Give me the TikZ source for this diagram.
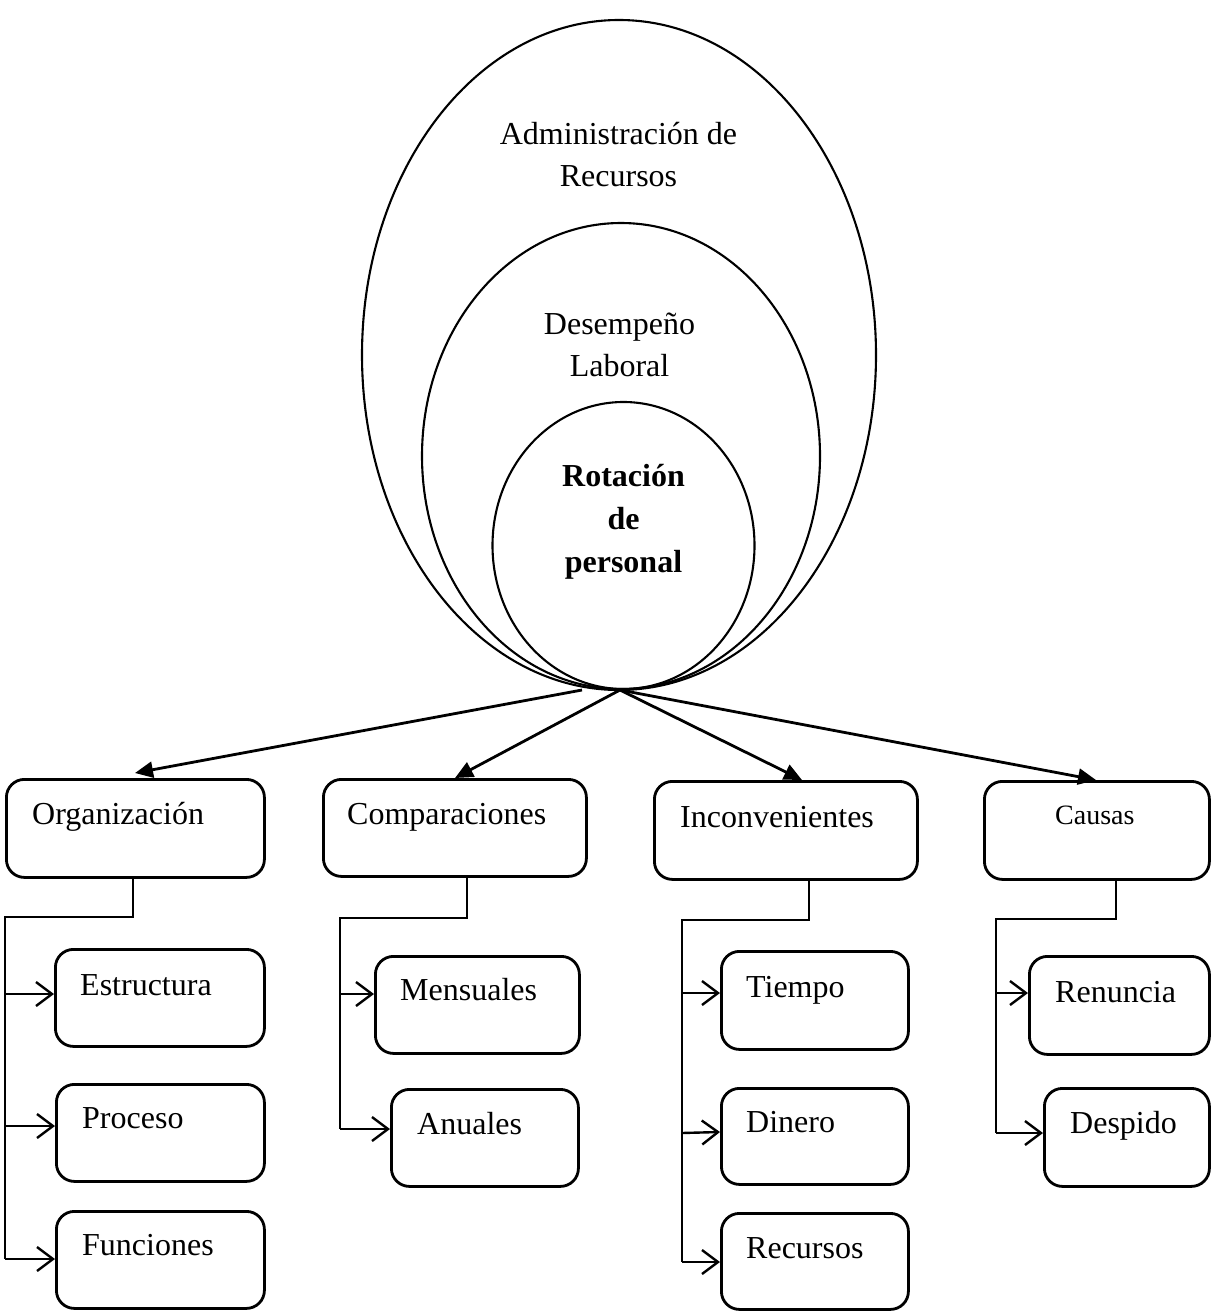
\documentclass[tikz,border=0pt]{standalone}
\usepackage{fontspec}
\setmainfont{Liberation Serif}
\usetikzlibrary{arrows.meta,calc,shapes.geometric}
\begin{document}
\begin{tikzpicture}[x=1pt,y=-1pt,
  box/.style={draw, line width=2.8pt, rounded corners=18pt, anchor=north west, inner sep=0pt},
  oval/.style={draw, ellipse, line width=2.1pt, inner sep=0pt},
  lbl/.style={anchor=base west, inner sep=0pt, font=\fontsize{32}{42}\selectfont},
  clbl/.style={anchor=base, inner sep=0pt, font=\fontsize{32}{42}\selectfont},
  conn/.style={line width=2.4pt},
  barb/.style={line width=2.4pt, -{Straight Barb[length=16pt,width=24pt]}},
  main/.style={line width=2.8pt, -{Triangle[length=18pt,width=16pt]}}]
\useasboundingbox (0,0) rectangle (1211,1311);

% ellipses
\node[oval, minimum width=514pt, minimum height=670pt] (outer) at (619,355) {};
\node[oval, minimum width=398pt, minimum height=466pt] (middle) at (621,456) {};
\node[oval, minimum width=262pt, minimum height=287pt] (inner) at (623.5,545.5) {};

\node[clbl] (t1) at (618.5,144) {Administración de};
\node[clbl] (t2) at (618.5,186) {Recursos};
\node[clbl] (t3) at (619.5,334) {Desempeño};
\node[clbl] (t4) at (619.5,376) {Laboral};
\node[clbl, font=\fontsize{32}{42}\selectfont\bfseries] (t5) at (623.5,486) {Rotación};
\node[clbl, font=\fontsize{32}{42}\selectfont\bfseries] (t6) at (623.5,529) {de};
\node[clbl, font=\fontsize{32}{42}\selectfont\bfseries] (t7) at (623.5,572) {personal};

% main boxes
\node[box, minimum width=258pt, minimum height=98pt] (org) at (5,778) {};
\node[box, minimum width=263pt, minimum height=97pt] (comp) at (322,778) {};
\node[box, minimum width=263pt, minimum height=98pt] (inc) at (653,780) {};
\node[box, minimum width=225pt, minimum height=98pt] (cau) at (983,780) {};

\node[lbl] (lorg) at (32,824) {Organización};
\node[lbl] (lcomp) at (347,824) {Comparaciones};
\node[lbl] (linc) at (680,827) {Inconvenientes};
\node[lbl, font=\fontsize{28}{34}\selectfont] (lcau) at (1055,824) {Causas};

% sub boxes
\node[box, minimum width=209pt, minimum height=97pt] (est) at (54,948) {};
\node[box, minimum width=208pt, minimum height=97pt] (pro) at (55,1083) {};
\node[box, minimum width=208pt, minimum height=97pt] (fun) at (55,1210) {};
\node[box, minimum width=204pt, minimum height=97pt] (men) at (374,955) {};
\node[box, minimum width=187pt, minimum height=97pt] (anu) at (390,1088) {};
\node[box, minimum width=187pt, minimum height=98pt] (tie) at (720,950) {};
\node[box, minimum width=187pt, minimum height=96pt] (din) at (720,1087) {};
\node[box, minimum width=187pt, minimum height=96pt] (rec) at (720,1212) {};
\node[box, minimum width=180pt, minimum height=98pt] (ren) at (1028,955) {};
\node[box, minimum width=165pt, minimum height=98pt] (des) at (1043,1087) {};

\node[lbl] (lest) at (80,995) {Estructura};
\node[lbl] (lpro) at (82,1128) {Proceso};
\node[lbl] (lfun) at (82,1255) {Funciones};
\node[lbl] (lmen) at (400,1000) {Mensuales};
\node[lbl] (lanu) at (417,1134) {Anuales};
\node[lbl] (ltie) at (746,997) {Tiempo};
\node[lbl] (ldin) at (746,1132) {Dinero};
\node[lbl] (lrec) at (746,1258) {Recursos};
\node[lbl] (lren) at (1055,1002) {Renuncia};
\node[lbl] (ldes) at (1070,1133) {Despido};

% main arrows
\coordinate (hub) at (620,690);
\coordinate (hubL) at (582,690);
\draw[main] (hubL) -- ($(org.north west)+(130,-5)$);
\draw[main] (hub) -- ($(comp.north west)+(133,0)$);
\draw[main] (hub) -- ($(inc.north west)+(149,0)$);
\draw[main] (hub) -- ($(cau.north west)+(113,0)$);

% Organizacion tree
\coordinate (oT) at (133,917);
\coordinate (oL) at (5,917);
\draw[conn] (oT |- org.south) -- (oT) -- (oL) -- ($(oL)+(0,342)$);
\draw[barb] ($(est.north west)+(-49,46)$) -- ($(est.north west)+(0,46)$);
\draw[barb] ($(pro.north west)+(-50,43)$) -- ($(pro.north west)+(0,43)$);
\draw[barb] ($(fun.north west)+(-50,49)$) -- ($(fun.north west)+(0,49)$);

% Comparaciones tree
\coordinate (cT) at (467,918);
\coordinate (cL) at (340,918);
\draw[conn] (cT |- comp.south) -- (cT) -- (cL) -- ($(cL)+(0,211)$);
\draw[barb] ($(men.north west)+(-34,39)$) -- ($(men.north west)+(0,39)$);
\draw[barb] ($(anu.north west)+(-50,41)$) -- ($(anu.north west)+(0,41)$);

% Inconvenientes tree
\coordinate (iT) at (809,920);
\coordinate (iL) at (682,920);
\draw[conn] (iT |- inc.south) -- (iT) -- (iL) -- ($(iL)+(0,342)$);
\draw[barb] ($(tie.north west)+(-38,43)$) -- ($(tie.north west)+(0,43)$);
\draw[barb] ($(din.north west)+(-38,46)$) -- ($(din.north west)+(0,45)$);
\draw[barb] ($(rec.north west)+(-38,50)$) -- ($(rec.north west)+(0,50)$);

% Causas tree
\coordinate (kT) at (1116,919);
\coordinate (kL) at (996,919);
\draw[conn] (kT |- cau.south) -- (kT) -- (kL) -- ($(kL)+(0,214)$);
\draw[barb] ($(ren.north west)+(-32,38)$) -- ($(ren.north west)+(0,38)$);
\draw[barb] ($(des.north west)+(-47,46)$) -- ($(des.north west)+(0,46)$);
\end{tikzpicture}
\end{document}
